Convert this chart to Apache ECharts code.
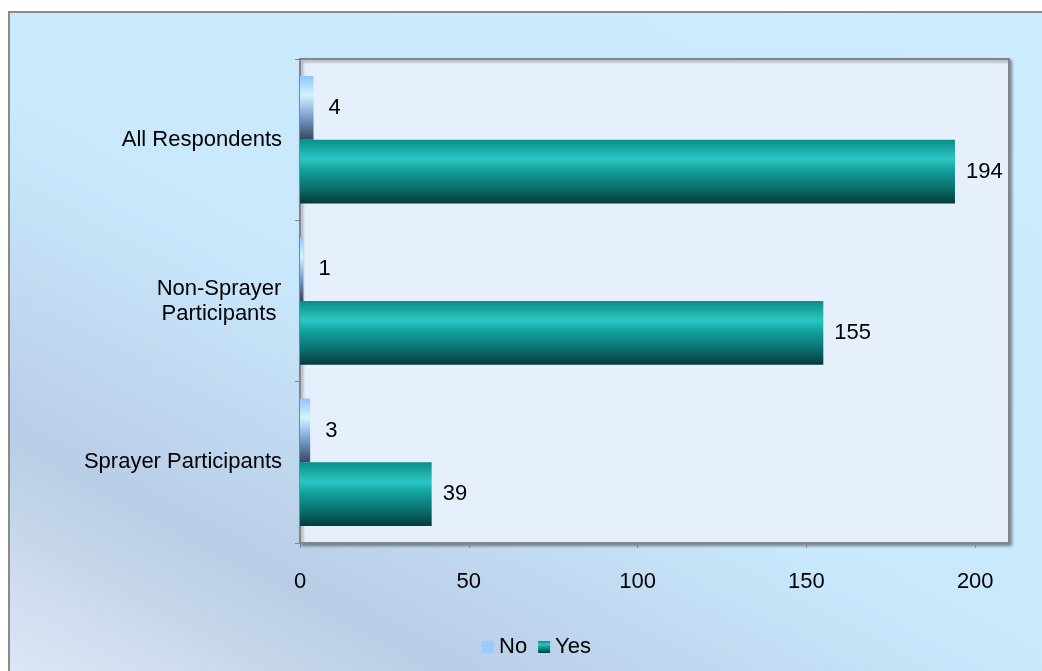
<!DOCTYPE html>
<html>
<head>
<meta charset="utf-8">
<title>No / Yes by respondent group</title>
<script src="https://cdn.jsdelivr.net/npm/echarts@6/dist/echarts.min.js"></script>
<style>
  html, body { margin: 0; padding: 0; background: #ffffff; }
  #chart { width: 1042px; height: 671px; }
</style>
</head>
<body>
<div id="chart"></div>
<script>
// Respondent groups, listed bottom to top as the category axis draws them
const categories = ['Sprayer Participants', 'Non-Sprayer Participants', 'All Respondents'];
const noValues = [3, 1, 4];
const yesValues = [39, 155, 194];
const xTicks = [0, 50, 100, 150, 200];

const chart = echarts.init(document.getElementById('chart'));
const LG = echarts.graphic.LinearGradient;
const FONT = 'Liberation Sans, Arial, sans-serif';

const yesFill = new LG(0, 0, 0, 1, [
  { offset: 0, color: '#0b8c88' },
  { offset: 0.3, color: '#2bc7c4' },
  { offset: 0.48, color: '#12a09c' },
  { offset: 0.75, color: '#0a716f' },
  { offset: 1, color: '#053b3b' }
]);
const noFill = new LG(0, 0, 0, 1, [
  { offset: 0, color: '#8fc6f8' },
  { offset: 0.3, color: '#d4f3ff' },
  { offset: 0.6, color: '#82aad8' },
  { offset: 1, color: '#34465e' }
]);

function valueLabel(distance) {
  return {
    show: true,
    position: 'right',
    distance: distance,
    color: '#000000',
    fontSize: 22,
    fontFamily: FONT
  };
}

// long category names wrap onto two centred lines
function categoryLabel(v) {
  if (v.indexOf('Non-Sprayer ') === 0) {
    return '{w|Non-Sprayer}\n{w|' + v.slice('Non-Sprayer '.length) + '}';
  }
  return v;
}

chart.setOption({
  animation: false,
  graphic: [{
    type: 'rect',
    z: -10,
    silent: true,
    shape: { x: 9, y: 12, width: 1040, height: 670 },
    style: {
      // page backdrop: pale at the lower left, a bluish-grey band, then light sky blue
      fill: new LG(0, 671, 506, -275, [
        { offset: 0, color: '#dde7f4' },
        { offset: 0.2, color: '#b9cde6' },
        { offset: 0.45, color: '#c9e8fc' },
        { offset: 1, color: '#cdecff' }
      ], true),
      stroke: '#8a8a8a',
      lineWidth: 2
    }
  }],
  grid: {
    left: 300,
    top: 59,
    right: 33,
    bottom: 128,
    show: true,
    backgroundColor: '#e6f0fc',
    borderColor: '#858585',
    borderWidth: 2,
    shadowColor: 'rgba(0,0,0,0.35)',
    shadowBlur: 3,
    shadowOffsetX: 2,
    shadowOffsetY: 2
  },
  legend: {
    left: 477,
    top: 631,
    icon: 'rect',
    itemWidth: 12,
    itemHeight: 12,
    itemGap: 11,
    textStyle: { color: '#000000', fontSize: 22, fontFamily: FONT },
    data: [
      { name: 'No', itemStyle: { color: '#99ccff' } },
      { name: 'Yes' }
    ]
  },
  xAxis: {
    type: 'value',
    min: 0,
    max: 210,
    interval: 50,
    axisLine: { show: true, lineStyle: { color: '#858585', width: 1 } },
    axisTick: { show: true, length: 5, lineStyle: { color: '#858585' }, customValues: xTicks },
    splitLine: { show: false },
    axisLabel: {
      customValues: xTicks,
      margin: 28,
      color: '#000000',
      fontSize: 22,
      fontFamily: FONT
    }
  },
  yAxis: {
    type: 'category',
    data: categories,
    axisLine: { show: true, lineStyle: { color: '#858585', width: 1 } },
    axisTick: { show: true, length: 5, lineStyle: { color: '#858585' } },
    axisLabel: {
      margin: 18,
      color: '#000000',
      fontSize: 22,
      lineHeight: 25,
      fontFamily: FONT,
      formatter: categoryLabel,
      rich: {
        w: {
          width: 126,
          align: 'center',
          fontSize: 22,
          lineHeight: 25,
          fontFamily: FONT,
          color: '#000000'
        }
      }
    }
  },
  series: [
    {
      name: 'No',
      type: 'bar',
      data: noValues,
      barGap: '0%',
      barCategoryGap: '21%',
      itemStyle: { color: noFill },
      label: valueLabel(15)
    },
    {
      name: 'Yes',
      type: 'bar',
      data: yesValues,
      barGap: '0%',
      barCategoryGap: '21%',
      itemStyle: { color: yesFill },
      label: valueLabel(11)
    }
  ]
});
</script>
</body>
</html>
